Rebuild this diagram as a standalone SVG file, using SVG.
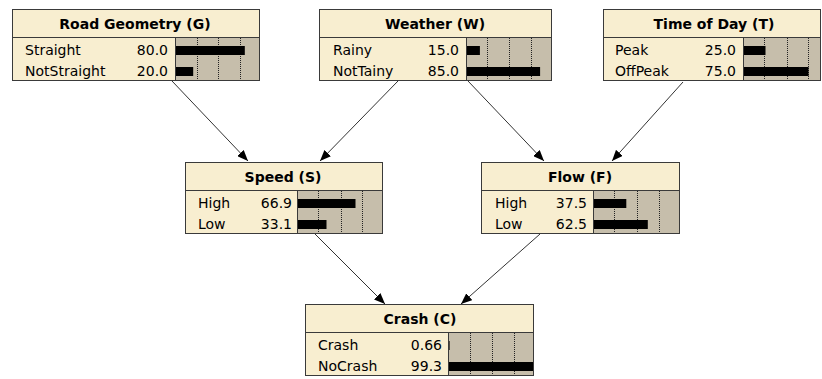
<svg xmlns="http://www.w3.org/2000/svg" width="822" height="379" viewBox="0 0 822 379">
<defs>
<marker id="ah" markerUnits="userSpaceOnUse" markerWidth="12" markerHeight="9" refX="11" refY="4.5" orient="auto">
<path d="M0,0 L11,4.5 L0,9 Z" fill="#000"/>
</marker>
</defs>
<style>
.hd{fill:#F8EED0;stroke:#3a3a3a;stroke-width:1}
.bd{fill:#F8EED0;stroke:#3a3a3a;stroke-width:1}
.ba{fill:#C6BEAB;stroke:#3a3a3a;stroke-width:1}
.bar{fill:#000}
.gl{stroke:#222;stroke-width:1;stroke-dasharray:1 1}
.t{font-family:"DejaVu Sans","Liberation Sans",sans-serif;font-weight:bold;font-size:14px;fill:#000;text-anchor:middle}
.l{font-family:"DejaVu Sans","Liberation Sans",sans-serif;font-size:14px;fill:#000}
.n{font-family:"DejaVu Sans","Liberation Sans",sans-serif;font-size:14px;fill:#000;text-anchor:end}
.c{stroke:#333;stroke-width:1;fill:none;marker-end:url(#ah)}
</style>
<rect width="822" height="379" fill="#fff"/>
<g id="connectors">
<line class="c" x1="172" y1="81" x2="248" y2="161"/>
<line class="c" x1="398" y1="81" x2="320" y2="161"/>
<line class="c" x1="468" y1="81" x2="544" y2="161"/>
<line class="c" x1="683" y1="82" x2="612" y2="161"/>
<line class="c" x1="315" y1="234" x2="385" y2="304"/>
<line class="c" x1="540" y1="234" x2="461" y2="304"/>
</g>
<g id="node-G">
<rect class="hd" x="12.5" y="9.5" width="247" height="28"/>
<rect class="bd" x="12.5" y="37.5" width="163" height="43"/>
<rect class="ba" x="175.5" y="37.5" width="84" height="43"/>
<line class="gl" x1="197.5" y1="38" x2="197.5" y2="80"/>
<line class="gl" x1="218.5" y1="38" x2="218.5" y2="80"/>
<line class="gl" x1="240.5" y1="38" x2="240.5" y2="80"/>
<rect class="bar" x="176" y="46" width="68.8" height="9"/>
<rect class="bar" x="176" y="67" width="17.2" height="9"/>
<text class="t" x="135" y="29">Road Geometry (G)</text>
<text class="l" x="25" y="55">Straight</text>
<text class="n" x="168" y="55">80.0</text>
<text class="l" x="25" y="76">NotStraight</text>
<text class="n" x="168" y="76">20.0</text>
</g>
<g id="node-W">
<rect class="hd" x="319.5" y="9.5" width="232" height="28"/>
<rect class="bd" x="319.5" y="37.5" width="147" height="43"/>
<rect class="ba" x="466.5" y="37.5" width="85" height="43"/>
<line class="gl" x1="487.5" y1="38" x2="487.5" y2="80"/>
<line class="gl" x1="509.5" y1="38" x2="509.5" y2="80"/>
<line class="gl" x1="531.5" y1="38" x2="531.5" y2="80"/>
<rect class="bar" x="467" y="46" width="12.9" height="9"/>
<rect class="bar" x="467" y="67" width="73.1" height="9"/>
<text class="t" x="435" y="29">Weather (W)</text>
<text class="l" x="333" y="55">Rainy</text>
<text class="n" x="459" y="55">15.0</text>
<text class="l" x="333" y="76">NotTainy</text>
<text class="n" x="459" y="76">85.0</text>
</g>
<g id="node-T">
<rect class="hd" x="603.5" y="9.5" width="217" height="28"/>
<rect class="bd" x="603.5" y="37.5" width="140" height="43"/>
<rect class="ba" x="743.5" y="37.5" width="77" height="43"/>
<line class="gl" x1="764.5" y1="38" x2="764.5" y2="80"/>
<line class="gl" x1="787.5" y1="38" x2="787.5" y2="80"/>
<line class="gl" x1="808.5" y1="38" x2="808.5" y2="80"/>
<rect class="bar" x="744" y="46" width="21.5" height="9"/>
<rect class="bar" x="744" y="67" width="64.5" height="9"/>
<text class="t" x="714" y="29">Time of Day (T)</text>
<text class="l" x="615" y="55">Peak</text>
<text class="n" x="736" y="55">25.0</text>
<text class="l" x="615" y="76">OffPeak</text>
<text class="n" x="736" y="76">75.0</text>
</g>
<g id="node-S">
<rect class="hd" x="185.5" y="162.5" width="197" height="28"/>
<rect class="bd" x="185.5" y="190.5" width="112" height="43"/>
<rect class="ba" x="297.5" y="190.5" width="85" height="43"/>
<line class="gl" x1="318.5" y1="191" x2="318.5" y2="233"/>
<line class="gl" x1="341.5" y1="191" x2="341.5" y2="233"/>
<line class="gl" x1="362.5" y1="191" x2="362.5" y2="233"/>
<rect class="bar" x="298" y="199" width="57.5" height="9"/>
<rect class="bar" x="298" y="220" width="28.5" height="9"/>
<text class="t" x="283" y="182">Speed (S)</text>
<text class="l" x="198" y="208">High</text>
<text class="n" x="292" y="208">66.9</text>
<text class="l" x="198" y="229">Low</text>
<text class="n" x="292" y="229">33.1</text>
</g>
<g id="node-F">
<rect class="hd" x="481.5" y="162.5" width="198" height="28"/>
<rect class="bd" x="481.5" y="190.5" width="112" height="43"/>
<rect class="ba" x="593.5" y="190.5" width="86" height="43"/>
<line class="gl" x1="614.5" y1="191" x2="614.5" y2="233"/>
<line class="gl" x1="637.5" y1="191" x2="637.5" y2="233"/>
<line class="gl" x1="659.5" y1="191" x2="659.5" y2="233"/>
<rect class="bar" x="594" y="199" width="32.3" height="9"/>
<rect class="bar" x="594" y="220" width="53.8" height="9"/>
<text class="t" x="580" y="182">Flow (F)</text>
<text class="l" x="495" y="208">High</text>
<text class="n" x="587" y="208">37.5</text>
<text class="l" x="495" y="229">Low</text>
<text class="n" x="587" y="229">62.5</text>
</g>
<g id="node-C">
<rect class="hd" x="305.5" y="304.5" width="228" height="28"/>
<rect class="bd" x="305.5" y="332.5" width="143" height="43"/>
<rect class="ba" x="448.5" y="332.5" width="85" height="43"/>
<line class="gl" x1="470.5" y1="333" x2="470.5" y2="375"/>
<line class="gl" x1="492.5" y1="333" x2="492.5" y2="375"/>
<line class="gl" x1="514.5" y1="333" x2="514.5" y2="375"/>
<rect class="bar" x="449" y="341" width="0.6" height="9"/>
<rect class="bar" x="449" y="362" width="84" height="9"/>
<text class="t" x="420" y="324">Crash (C)</text>
<text class="l" x="318" y="350">Crash</text>
<text class="n" x="442" y="350">0.66</text>
<text class="l" x="318" y="371">NoCrash</text>
<text class="n" x="442" y="371">99.3</text>
</g>
</svg>
